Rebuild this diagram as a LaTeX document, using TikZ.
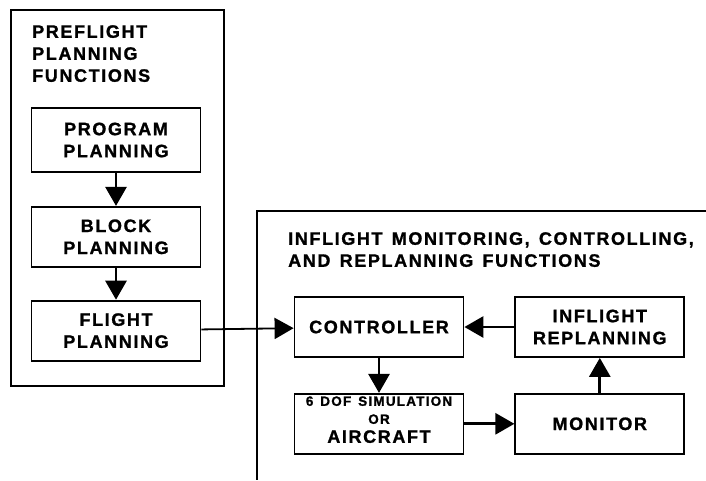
\documentclass[tikz,border=0pt]{standalone}
\usepackage{fontspec}
\setmainfont{Liberation Sans}[LetterSpace=9, WordSpace=1.4, BoldFeatures={FakeBold=1.2}]
\usetikzlibrary{positioning, arrows.meta}

\begin{document}
\begin{tikzpicture}[x=1pt, y=-1pt,
  box/.style={draw, line width=1.8pt, minimum width=169pt, minimum height=60pt,
    inner sep=0pt, align=center, font=\bfseries\fontsize{18}{22}\selectfont},
  flow/.style={-{Triangle[length=19pt,width=21pt]}, line width=2.8pt},
  title/.style={anchor=north west, inner sep=0pt, align=left,
    font=\bfseries\fontsize{18}{22}\selectfont}]

  \useasboundingbox (0,0) rectangle (706,480);

  % preflight side
  \draw[line width=1.8pt] (11,10) rectangle (224,386);
  \node[title] (pretitle) at (32,25) {PREFLIGHT\\PLANNING\\FUNCTIONS};
  \node[box, minimum height=64pt] (prog) at (116,140) {PROGRAM\\PLANNING};
  \node[box, below=33pt of prog] (block) {BLOCK\\PLANNING};
  \node[box, below=32pt of block] (flight) {FLIGHT\\PLANNING};

  % inflight side
  \draw[line width=1.8pt] (706,211) -- (257,211);
  \draw[line width=2.8pt] (257,210) -- (257,480);
  \node[title] (intitle) at (288,232) {INFLIGHT MONITORING, CONTROLLING,\\AND REPLANNING FUNCTIONS};
  \node[box] (ctrl) at (379,327) {CONTROLLER};
  \node[box, right=50pt of ctrl] (replan) {INFLIGHT\\REPLANNING};
  \node[box, below=35pt of ctrl, text height=40pt, text depth=2pt,
    font=\bfseries\fontsize{13.5}{15}\selectfont] (sim)
    {6 DOF SIMULATION\\[3pt] OR\\[4pt] \fontsize{18}{18}\selectfont AIRCRAFT};
  \node[box, below=35pt of replan] (monitor) {MONITOR};

  \draw[flow] (prog) -- (block);
  \draw[flow] (block) -- (flight);
  \draw[flow, line width=1.8pt] (flight) -- (ctrl);
  \draw[flow] (replan) -- (ctrl);
  \draw[flow] (ctrl) -- (sim);
  \draw[flow] (sim) -- (monitor);
  \draw[flow] (monitor) -- (replan);
\end{tikzpicture}
\end{document}
